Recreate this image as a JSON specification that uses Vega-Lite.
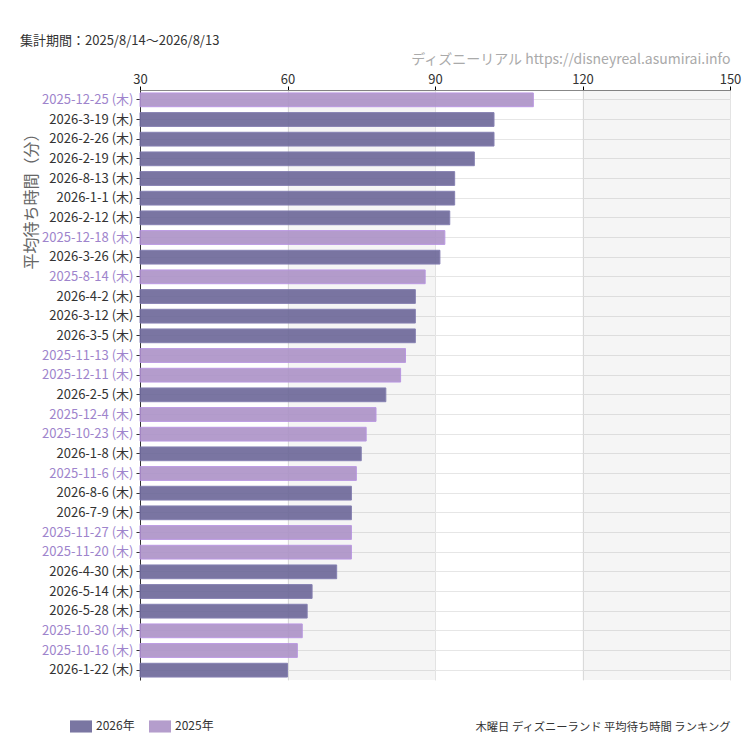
{
  "$schema": "https://vega.github.io/schema/vega-lite/v6.json",
  "width": 590,
  "height": 590,
  "autosize": {"type": "none"},
  "padding": {"left": 140, "top": 90, "right": 20, "bottom": 70},
  "background": "white",
  "title": {
    "text": "集計期間：2025/8/14〜2026/8/13",
    "anchor": "start",
    "frame": "group",
    "dx": -120,
    "offset": 4,
    "fontSize": 13,
    "fontWeight": "normal",
    "color": "#333333"
  },
  "config": {
    "font": "Noto Sans CJK JP",
    "view": {"stroke": null}
  },
  "datasets": {
    "bands": [
      {"start": 60, "end": 90},
      {"start": 120, "end": 150}
    ],
    "ranking": [
      {"label": "2025-12-25 (木)", "value": 110, "year": "2025年"},
      {"label": "2026-3-19 (木)", "value": 102, "year": "2026年"},
      {"label": "2026-2-26 (木)", "value": 102, "year": "2026年"},
      {"label": "2026-2-19 (木)", "value": 98, "year": "2026年"},
      {"label": "2026-8-13 (木)", "value": 94, "year": "2026年"},
      {"label": "2026-1-1 (木)", "value": 94, "year": "2026年"},
      {"label": "2026-2-12 (木)", "value": 93, "year": "2026年"},
      {"label": "2025-12-18 (木)", "value": 92, "year": "2025年"},
      {"label": "2026-3-26 (木)", "value": 91, "year": "2026年"},
      {"label": "2025-8-14 (木)", "value": 88, "year": "2025年"},
      {"label": "2026-4-2 (木)", "value": 86, "year": "2026年"},
      {"label": "2026-3-12 (木)", "value": 86, "year": "2026年"},
      {"label": "2026-3-5 (木)", "value": 86, "year": "2026年"},
      {"label": "2025-11-13 (木)", "value": 84, "year": "2025年"},
      {"label": "2025-12-11 (木)", "value": 83, "year": "2025年"},
      {"label": "2026-2-5 (木)", "value": 80, "year": "2026年"},
      {"label": "2025-12-4 (木)", "value": 78, "year": "2025年"},
      {"label": "2025-10-23 (木)", "value": 76, "year": "2025年"},
      {"label": "2026-1-8 (木)", "value": 75, "year": "2026年"},
      {"label": "2025-11-6 (木)", "value": 74, "year": "2025年"},
      {"label": "2026-8-6 (木)", "value": 73, "year": "2026年"},
      {"label": "2026-7-9 (木)", "value": 73, "year": "2026年"},
      {"label": "2025-11-27 (木)", "value": 73, "year": "2025年"},
      {"label": "2025-11-20 (木)", "value": 73, "year": "2025年"},
      {"label": "2026-4-30 (木)", "value": 70, "year": "2026年"},
      {"label": "2026-5-14 (木)", "value": 65, "year": "2026年"},
      {"label": "2026-5-28 (木)", "value": 64, "year": "2026年"},
      {"label": "2025-10-30 (木)", "value": 63, "year": "2025年"},
      {"label": "2025-10-16 (木)", "value": 62, "year": "2025年"},
      {"label": "2026-1-22 (木)", "value": 60, "year": "2026年"}
    ]
  },
  "resolve": {"axis": {"x": "independent"}},
  "layer": [
    {
      "data": {"name": "bands"},
      "mark": {"type": "rect", "fill": "#000000", "opacity": 0.04},
      "encoding": {
        "x": {
          "field": "start",
          "type": "quantitative",
          "scale": {"domain": [30, 150], "nice": false, "zero": false},
          "axis": {
            "orient": "bottom",
            "labels": false,
            "ticks": false,
            "domain": false,
            "grid": false,
            "title": "木曜日 ディズニーランド 平均待ち時間 ランキング",
            "titleAnchor": "end",
            "titleFontSize": 11.3,
            "titleFontWeight": "normal",
            "titleColor": "#333333",
            "titlePadding": 41
          }
        },
        "x2": {"field": "end"}
      }
    },
    {
      "data": {"name": "ranking"},
      "mark": {"type": "bar", "opacity": 0.9, "strokeWidth": 1},
      "encoding": {
        "x": {
          "field": "value",
          "type": "quantitative",
          "scale": {"domain": [30, 150], "nice": false, "zero": false},
          "axis": {
            "orient": "top",
            "values": [30, 60, 90, 120, 150],
            "title": "ディズニーリアル https://disneyreal.asumirai.info",
            "titleAnchor": "end",
            "titleColor": "#aaaaaa",
            "titleFontSize": 14,
            "titleFontWeight": "normal",
            "titlePadding": 7,
            "labelFontSize": 13,
            "labelColor": "#333333",
            "labelPadding": 0,
            "labelFlush": false,
            "labelOverlap": false,
            "tickSize": 4,
            "tickColor": "#000000",
            "domainColor": "#888888",
            "grid": true,
            "gridColor": "#e3e3e3"
          }
        },
        "x2": {"datum": 30},
        "y": {
          "field": "label",
          "type": "nominal",
          "sort": null,
          "scale": {"paddingInner": 0.3},
          "axis": {
            "title": "平均待ち時間（分）",
            "titleAnchor": "end",
            "titleAlign": "right",
            "titleBaseline": "middle",
            "titleX": -109,
            "titleY": 35,
            "titleFontSize": 16,
            "titleFontWeight": "normal",
            "titleColor": "#666666",
            "labelFontSize": 13,
            "labelColor": {
              "condition": {"test": "indexof(datum.value, '2025') === 0", "value": "#9e84cc"},
              "value": "#333333"
            },
            "labelPadding": 3,
            "tickSize": 4,
            "tickColor": "#333333",
            "domainColor": "#333333",
            "grid": true,
            "gridColor": "#e6e6e6",
            "tickBand": "center"
          }
        },
        "color": {
          "field": "year",
          "type": "nominal",
          "scale": {"domain": ["2026年", "2025年"], "range": ["#6c6798", "#ac92c7"]},
          "legend": {
            "title": null,
            "orient": "none",
            "direction": "horizontal",
            "legendX": -70,
            "legendY": 625,
            "symbolType": "M-1,-0.55H1V0.55H-1Z",
            "symbolSize": 484,
            "symbolStrokeWidth": 0,
            "labelFontSize": 12,
            "labelColor": "#333333",
            "labelOffset": 4,
            "columnPadding": 14
          }
        },
        "stroke": {
          "field": "year",
          "type": "nominal",
          "scale": {"domain": ["2026年", "2025年"], "range": ["#7a74ab", "#b48ee0"]},
          "legend": null
        }
      }
    }
  ]
}
